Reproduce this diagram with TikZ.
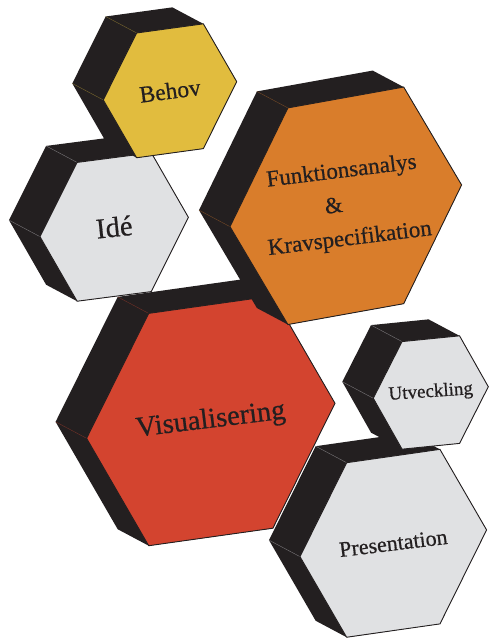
\documentclass[tikz,border=0pt]{standalone}
\usepackage{fontspec}
\setmainfont{Liberation Serif}
\newfontfamily\hexfont{Liberation Serif}[FakeBold=0.6]

\definecolor{hexdark}{HTML}{231F20}
\definecolor{behovyellow}{HTML}{E1BC3E}
\definecolor{funkorange}{HTML}{D97D2B}
\definecolor{visred}{HTML}{D3442F}
\definecolor{hexgray}{HTML}{E0E1E3}

% #1 name, #2 centre, #3 radius, #4 slant, #5 colour, #6 text angle, #7 font size, #8 text
\newcommand{\hexblock}[8]{%
	\begin{scope}[shift={#2}, yslant=#4, yscale=1.08]
		\foreach \a in {0,60,...,300} \coordinate (#1-f\a) at (\a:#3);
	\end{scope}
	\begin{scope}[shift={#2}, shift={(-31,-16.5)}, yslant=#4, yscale=1.08]
		\foreach \a in {0,60,...,300} \coordinate (#1-b\a) at (\a:#3);
	\end{scope}
	\fill[hexdark] (#1-b300) -- (#1-b240) -- (#1-b180) -- (#1-b120) -- (#1-f120)
		-- (#1-f60) -- (#1-f0) -- (#1-f300) -- cycle;
	\draw[seam, draw=#5!45!hexdark] (#1-b240) -- (#1-f240) (#1-b180) -- (#1-f180);
	\filldraw[face, fill=#5] (#1-f0) -- (#1-f60) -- (#1-f120) -- (#1-f180)
		-- (#1-f240) -- (#1-f300) -- cycle;
	\node[hexlabel, rotate=#6, font=\hexfont\fontsize{#7pt}{34pt}\selectfont] (#1) at #2 {#8};
}

\begin{document}
\begin{tikzpicture}[x=1pt, y=-1pt]
	\tikzset{
		seam/.style={line width=0.4pt},
		face/.style={draw=hexdark, line width=0.9pt},
		hexlabel/.style={text=hexdark, inner sep=0pt, align=center},
	}
	\useasboundingbox (0,0) rectangle (489,638);

	\hexblock{ide}{(114.2,227)}{74.2}{0.13}{hexgray}{6}{28.5}{Idé}
	\hexblock{behov}{(170,90.8)}{66.7}{0.137}{behovyellow}{7.5}{23.5}{Behov}
	\hexblock{vis}{(210.8,420.8)}{124.2}{0.141}{visred}{7}{28.5}{Visualisering}
	\hexblock{funk}{(345.8,205.8)}{115.8}{0.18}{funkorange}{7}{23}%
		{Funktionsanalys\\\hspace*{-24pt}\&\\Kravspecifikation}
	\hexblock{pres}{(393.3,543.3)}{93.3}{0.143}{hexgray}{7}{22}{Presentation}
	\hexblock{utv}{(430.8,392.5)}{57.5}{0.10}{hexgray}{4}{19}{Utveckling}
\end{tikzpicture}
\end{document}
